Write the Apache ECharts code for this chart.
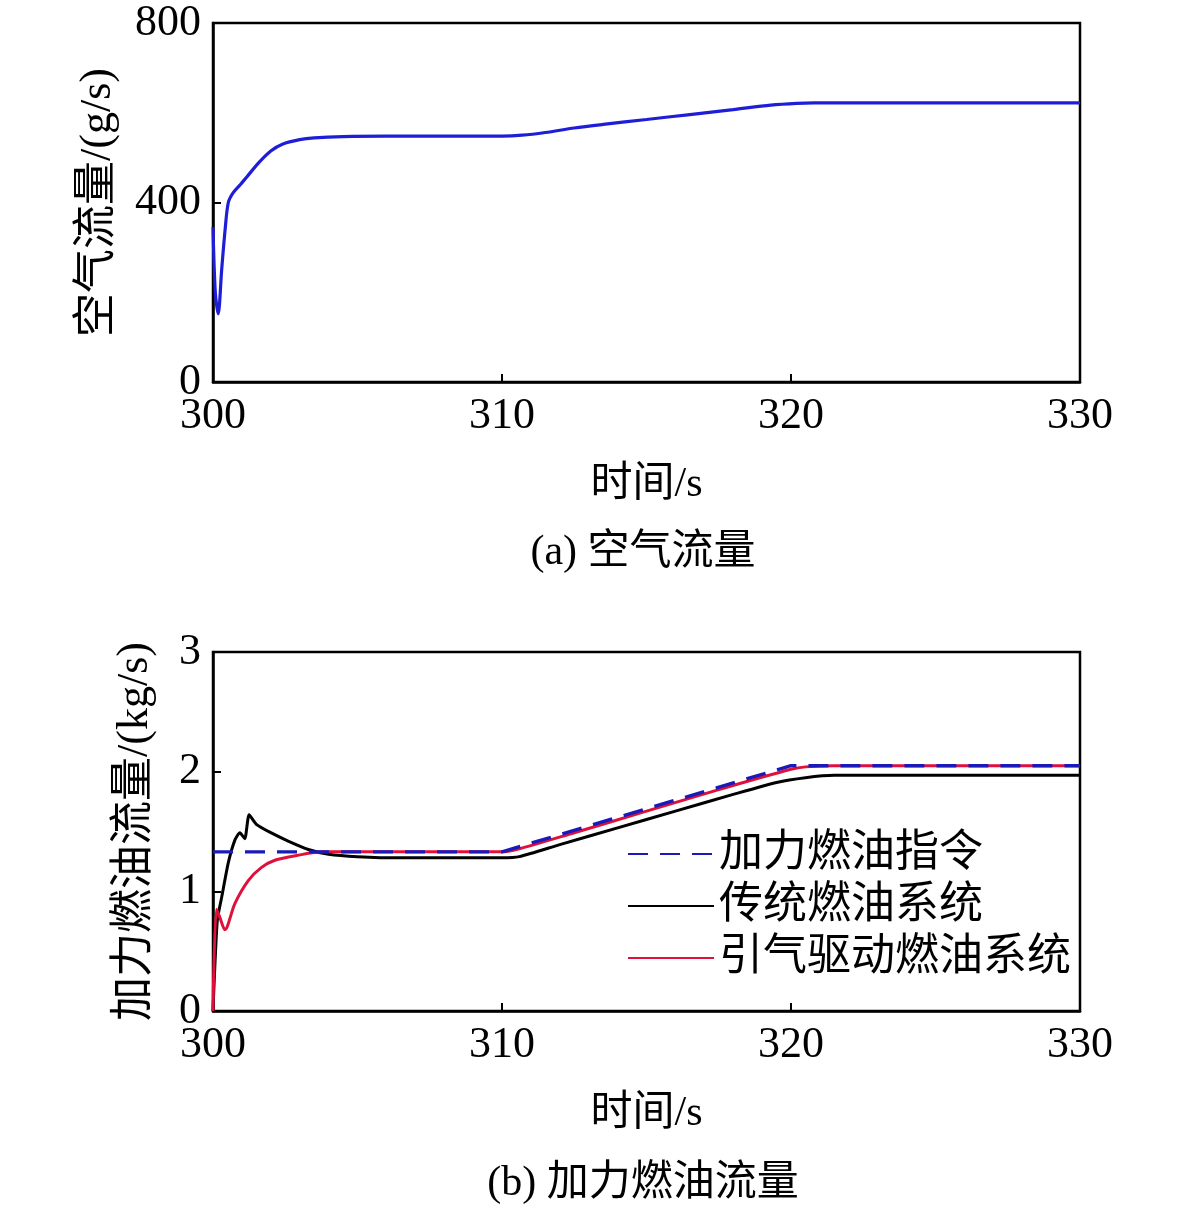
<!DOCTYPE html>
<html lang="zh">
<head>
    <meta charset="UTF-8">
    <title>空气流量与加力燃油流量</title>
    <script src="https://cdn.jsdelivr.net/npm/echarts@6/dist/echarts.min.js"></script>
    <style>
        html,body{
            margin:0;
            padding:0;
            background:#fff;
        }
        #box{
            width:1181px;
            height:1213px;
        }
    </style>
</head>
<body>
<div id="box"></div>
<script>
    // (a) 空气流量
    var airT = [300, 300.08, 300.18, 300.3, 300.42, 300.53, 300.7, 300.95, 301.17, 301.6, 302, 302.4, 303, 303.5, 304.5, 306, 308, 310, 310.7, 311.5, 312.5, 313.5, 315, 316.5, 318, 319.3, 320.2, 320.8, 322, 330];
    var airV = [345, 200, 152, 250, 340, 400, 422, 440, 457, 490, 515, 530, 540, 544, 547, 548, 548, 548, 550, 556, 566, 574, 585, 596, 607, 617, 621, 622, 622, 622];

    // (b) 加力燃油流量
    var cmdT = [300, 310, 320, 330];
    var cmdV = [1.33, 1.33, 2.05, 2.05];

    var tradT = [300, 300.05, 300.15, 300.3, 300.53, 300.76, 300.93, 301.1, 301.25, 301.5, 302, 302.6, 303.3, 304, 305, 306.5, 310, 310.6, 312, 314, 316, 318, 319.5, 320.5, 321.5, 323, 330];
    var tradV = [0, 0.3, 0.76, 0.95, 1.24, 1.43, 1.49, 1.44, 1.64, 1.56, 1.49, 1.42, 1.35, 1.31, 1.29, 1.28, 1.28, 1.29, 1.39, 1.53, 1.67, 1.81, 1.91, 1.95, 1.97, 1.97, 1.97];

    var bleedT = [300, 300.12, 300.24, 300.41, 300.76, 301.22, 301.68, 302.14, 302.9, 303.8, 305, 310, 310.5, 312.5, 315, 317.5, 320, 320.5, 321.5, 330];
    var bleedV = [0, 0.85, 0.78, 0.68, 0.9, 1.09, 1.2, 1.26, 1.3, 1.33, 1.33, 1.33, 1.35, 1.49, 1.67, 1.85, 2.02, 2.04, 2.05, 2.05];

    var xTicks = [300, 310, 320, 330];

    function pairs(t, v){
        var arr = [];
        for(var i=0; i<t.length; i++){
            arr.push([t[i], v[i]]);
        }
        return arr;
    }

    var serif = '"Liberation Serif", "Times New Roman", "Noto Sans CJK SC", serif';

    function xAxisCfg(gi){
        return {
            type:'value',
            gridIndex:gi,
            min:xTicks[0],
            max:xTicks[xTicks.length-1],
            interval:10,
            name:'时间/s',
            nameLocation:'middle',
            nameGap:82,
            nameTextStyle:{color:'#000', fontSize:42, fontFamily:serif},
            axisLine:{lineStyle:{color:'#000', width:2.5}},
            axisTick:{inside:true, length:8, lineStyle:{color:'#000', width:2}},
            axisLabel:{color:'#000', fontSize:44, fontFamily:serif, margin:12},
            splitLine:{show:false}
        };
    }

    var MyChart = echarts.init(document.getElementById('box'));
    var option = {
        backgroundColor:'#fff',
        animation:false,
        grid:[
            {left:213, top:23, width:867, height:359, show:true, borderColor:'#000', borderWidth:2.5},
            {left:213, top:652, width:867, height:359, show:true, borderColor:'#000', borderWidth:2.5}
        ],
        xAxis:[xAxisCfg(0), xAxisCfg(1)],
        yAxis:[
            {
                type:'value',
                gridIndex:0,
                min:0,
                max:800,
                interval:400,
                name:'空气流量/(g/s)',
                nameLocation:'middle',
                nameGap:93,
                nameTextStyle:{color:'#000', fontSize:44, fontFamily:serif},
                axisLine:{lineStyle:{color:'#000', width:2.5}},
                axisTick:{inside:true, length:8, lineStyle:{color:'#000', width:2}},
                axisLabel:{color:'#000', fontSize:44, fontFamily:serif, margin:12},
                splitLine:{show:false}
            },
            {
                type:'value',
                gridIndex:1,
                min:0,
                max:3,
                interval:1,
                name:'加力燃油流量/(kg/s)',
                nameLocation:'middle',
                nameGap:56,
                nameTextStyle:{color:'#000', fontSize:44, fontFamily:serif},
                axisLine:{lineStyle:{color:'#000', width:2.5}},
                axisTick:{inside:true, length:8, lineStyle:{color:'#000', width:2}},
                axisLabel:{color:'#000', fontSize:44, fontFamily:serif, margin:12},
                splitLine:{show:false}
            }
        ],
        legend:{
            orient:'vertical',
            left:622,
            top:826,
            itemWidth:86,
            itemHeight:20,
            itemGap:6,
            itemStyle:{opacity:0},
            data:['加力燃油指令', '传统燃油系统', '引气驱动燃油系统'],
            textStyle:{color:'#000', fontSize:44, lineHeight:46, fontFamily:serif}
        },
        graphic:[
            {type:'text', x:643, y:553, style:{text:'(a) 空气流量', fill:'#000', font:'42px ' + serif, align:'center', verticalAlign:'middle'}},
            {type:'text', x:643, y:1184, style:{text:'(b) 加力燃油流量', fill:'#000', font:'42px ' + serif, align:'center', verticalAlign:'middle'}}
        ],
        series:[
            {
                name:'空气流量',
                type:'line',
                xAxisIndex:0,
                yAxisIndex:0,
                showSymbol:false,
                symbol:'none',
                smooth:0.3,
                lineStyle:{color:'#1e1ed8', width:3.2},
                data:pairs(airT, airV)
            },
            {
                name:'传统燃油系统',
                type:'line',
                xAxisIndex:1,
                yAxisIndex:1,
                symbol:'none',
                smooth:0.2,
                itemStyle:{color:'#000'},
                lineStyle:{color:'#000', width:3},
                data:pairs(tradT, tradV)
            },
            {
                name:'引气驱动燃油系统',
                type:'line',
                xAxisIndex:1,
                yAxisIndex:1,
                symbol:'none',
                smooth:0.3,
                itemStyle:{color:'#e0103c'},
                lineStyle:{color:'#e0103c', width:3},
                data:pairs(bleedT, bleedV)
            },
            {
                name:'加力燃油指令',
                type:'line',
                xAxisIndex:1,
                yAxisIndex:1,
                symbol:'none',
                itemStyle:{color:'#1a1ab8'},
                lineStyle:{color:'#1a1ab8', width:3.4, type:[20, 12]},
                data:pairs(cmdT, cmdV)
            }
        ]
    };
    MyChart.setOption(option, true);
</script>
</body>
</html>
